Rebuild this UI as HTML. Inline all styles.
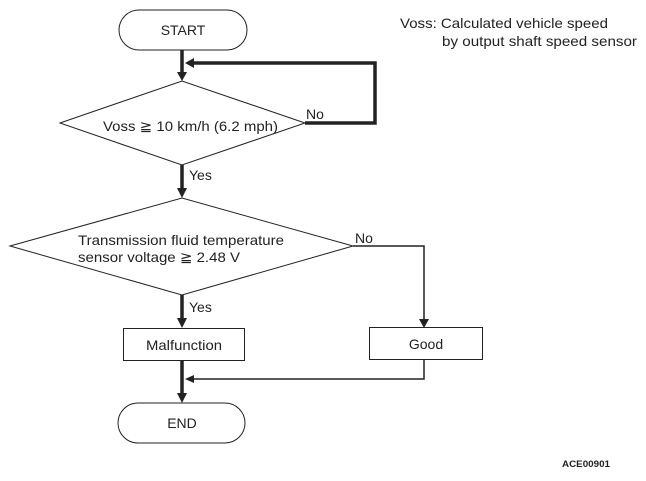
<!DOCTYPE html>
<html><head><style>body{margin:0;background:#fff}</style></head><body>
<svg width="646" height="476" xmlns="http://www.w3.org/2000/svg" font-family="Liberation Sans, sans-serif" fill="none">
<rect x="119" y="10" width="128" height="40" rx="20" stroke="#222" stroke-width="1"/>
<text x="183" y="35" font-size="14" fill="#222" text-anchor="middle">START</text>
<text x="400" y="28" font-size="14" fill="#222" textLength="208" lengthAdjust="spacingAndGlyphs">Voss: Calculated vehicle speed</text>
<text x="442" y="46" font-size="14" fill="#222" textLength="195" lengthAdjust="spacingAndGlyphs">by output shaft speed sensor</text>
<path d="M182 50V74" stroke="#222" stroke-width="3.5"/>
<polygon points="177,72 187,72 182,81" fill="#222"/>
<path d="M305 123H375V63H192" stroke="#222" stroke-width="3.5"/>
<polygon points="185,63 194,58 194,68" fill="#222"/>
<polygon points="60,123 182,81 305,123 182,165" stroke="#222" stroke-width="1"/>
<text x="103" y="131" font-size="14" fill="#222" textLength="175" lengthAdjust="spacingAndGlyphs">Voss ≧ 10 km/h (6.2 mph)</text>
<text x="306" y="119" font-size="14" fill="#222">No</text>
<path d="M182 165V190" stroke="#222" stroke-width="3.5"/>
<polygon points="177,188 187,188 182,198" fill="#222"/>
<text x="189" y="180" font-size="14" fill="#222">Yes</text>
<polygon points="10,246 182,198 353,246 182,295" stroke="#222" stroke-width="1"/>
<text x="78" y="245" font-size="14" fill="#222" textLength="206" lengthAdjust="spacingAndGlyphs">Transmission fluid temperature</text>
<text x="78" y="262" font-size="14" fill="#222" textLength="162" lengthAdjust="spacingAndGlyphs">sensor voltage ≧ 2.48 V</text>
<text x="355" y="243" font-size="14" fill="#222">No</text>
<path d="M353 246H424V322" stroke="#222" stroke-width="1.5"/>
<polygon points="419,319 429,319 424,328" fill="#222"/>
<path d="M182 295V320" stroke="#222" stroke-width="3.5"/>
<polygon points="177,318 187,318 182,328" fill="#222"/>
<text x="189" y="312" font-size="14" fill="#222">Yes</text>
<rect x="123.5" y="328.5" width="121" height="32" stroke="#222"/>
<text x="146" y="350" font-size="14" fill="#222" textLength="76" lengthAdjust="spacingAndGlyphs">Malfunction</text>
<rect x="369.5" y="327.5" width="113" height="32" stroke="#222"/>
<text x="426" y="349" font-size="14" fill="#222" text-anchor="middle">Good</text>
<path d="M424 360V379H192" stroke="#222" stroke-width="1.5"/>
<polygon points="185,379 194,375 194,383" fill="#222"/>
<path d="M182 361V395" stroke="#222" stroke-width="3.5"/>
<polygon points="177,393 187,393 182,403" fill="#222"/>
<rect x="118" y="403" width="127" height="40" rx="20" stroke="#222"/>
<text x="182" y="428" font-size="14" fill="#222" text-anchor="middle">END</text>
<text x="562" y="467" font-size="9" font-weight="bold" fill="#222" textLength="48" lengthAdjust="spacingAndGlyphs">ACE00901</text>
</svg>
</body></html>
